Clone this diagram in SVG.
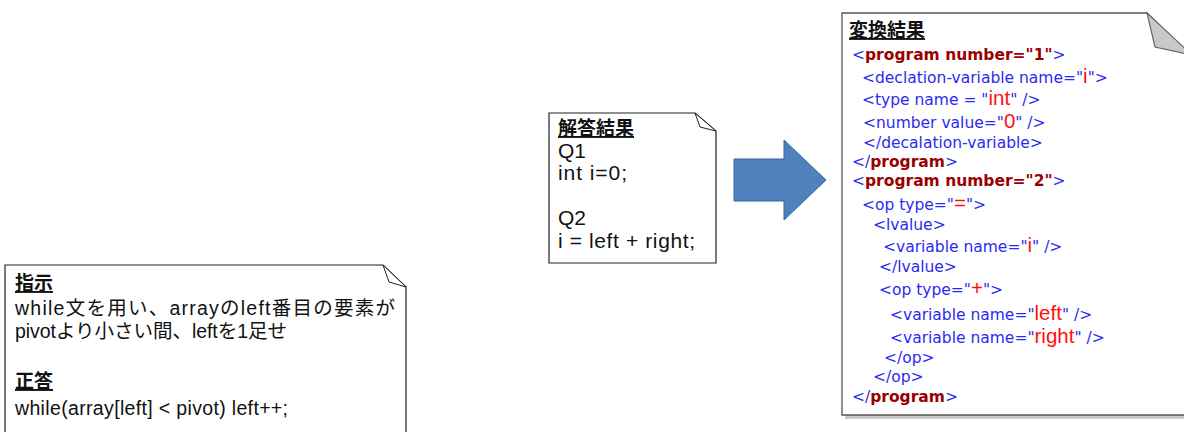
<svg xmlns="http://www.w3.org/2000/svg" width="1184" height="432" viewBox="0 0 1184 432">
<defs>
<style>
.page{fill:#fff;stroke:#222;stroke-width:1.2}
.fold{fill:#fff;stroke:#222;stroke-width:1}
.ttl{font-family:"Noto Sans CJK JP","Liberation Sans",sans-serif;font-weight:bold;font-size:19px;fill:#111;text-decoration:underline}
.body{font-family:"Liberation Sans","Noto Sans CJK JP",sans-serif;font-size:19.5px;fill:#111}
.mid{font-family:"Liberation Sans","Noto Sans CJK JP",sans-serif;font-size:21px;fill:#111}
.x{font-family:"DejaVu Sans",Verdana,sans-serif;font-size:15.5px;fill:#2a2af0}
.k{font-weight:bold;fill:#9a0000}
.r{font-family:"Liberation Sans",Arial,sans-serif;font-size:20.5px;fill:#ff1010}
</style>
</defs>
<g id="instruction">
<path class="page" d="M5,265 H383 L406,287 V440 H5 Z"/>
<path class="fold" d="M383,265 L389,282 L406,287 Z"/>
<text class="ttl" x="15" y="290">指示</text>
<text class="body" x="15" y="315" textLength="380" lengthAdjust="spacing">while文を用い、arrayのleft番目の要素が</text>
<text class="body" x="15" y="338" textLength="272" lengthAdjust="spacing">pivotより小さい間、leftを1足せ</text>
<text class="ttl" x="15" y="388">正答</text>
<text class="body" x="15" y="415" textLength="273" lengthAdjust="spacing">while(array[left] &lt; pivot) left++;</text>
</g>
<g id="answer">
<path class="page" d="M549,113 H695 L716,131 V263 H549 Z"/>
<path class="fold" d="M695,113 L700,127 L716,131 Z"/>
<text class="ttl" x="558" y="135">解答結果</text>
<text class="mid" x="558" y="158">Q1</text>
<text class="mid" x="558" y="180" textLength="69" lengthAdjust="spacing">int i=0;</text>
<text class="mid" x="558" y="225">Q2</text>
<text class="mid" x="558" y="248" textLength="137" lengthAdjust="spacing">i = left + right;</text>
</g>
<g id="connectors">
<polygon points="734,159 784,159 784,140 826,180 784,220 784,201 734,201" fill="#4f81bd" stroke="#3a6699" stroke-width="1"/>
</g>
<g id="result">
<path d="M845,17 H1150 L1204,69 V419 H845 Z" fill="#888" opacity="0.45"/>
<path d="M842,13 H1147 L1200,65 V415 H842 Z" fill="#fff" stroke="#555" stroke-width="1.3"/>
<path d="M1147,13 L1155,47 L1192,55 Z" fill="#c8c8c8" stroke="#666" stroke-width="1.2"/>
<text class="ttl" x="849" y="37">変換結果</text>
<text class="x" x="852" y="60">&lt;<tspan class="k">program number="1"</tspan>&gt;</text>
<text class="x" x="862" y="83">&lt;declation-variable name="<tspan class="r">i</tspan>"&gt;</text>
<text class="x" x="862" y="105">&lt;type name = "<tspan class="r">int</tspan>" /&gt;</text>
<text class="x" x="863" y="128">&lt;number value="<tspan class="r">0</tspan>" /&gt;</text>
<text class="x" x="863" y="148">&lt;/decalation-variable&gt;</text>
<text class="x" x="852" y="167">&lt;/<tspan class="k">program</tspan>&gt;</text>
<text class="x" x="852" y="186">&lt;<tspan class="k">program number="2"</tspan>&gt;</text>
<text class="x" x="862" y="210">&lt;op type="<tspan class="r">=</tspan>"&gt;</text>
<text class="x" x="873" y="230">&lt;lvalue&gt;</text>
<text class="x" x="883" y="252">&lt;variable name="<tspan class="r">i</tspan>" /&gt;</text>
<text class="x" x="879" y="272">&lt;/lvalue&gt;</text>
<text class="x" x="879" y="295">&lt;op type="<tspan class="r">+</tspan>"&gt;</text>
<text class="x" x="890" y="320">&lt;variable name="<tspan class="r">left</tspan>" /&gt;</text>
<text class="x" x="890" y="343">&lt;variable name="<tspan class="r">right</tspan>" /&gt;</text>
<text class="x" x="884" y="363">&lt;/op&gt;</text>
<text class="x" x="873" y="382">&lt;/op&gt;</text>
<text class="x" x="852" y="402">&lt;/<tspan class="k">program</tspan>&gt;</text>
</g>
</svg>
